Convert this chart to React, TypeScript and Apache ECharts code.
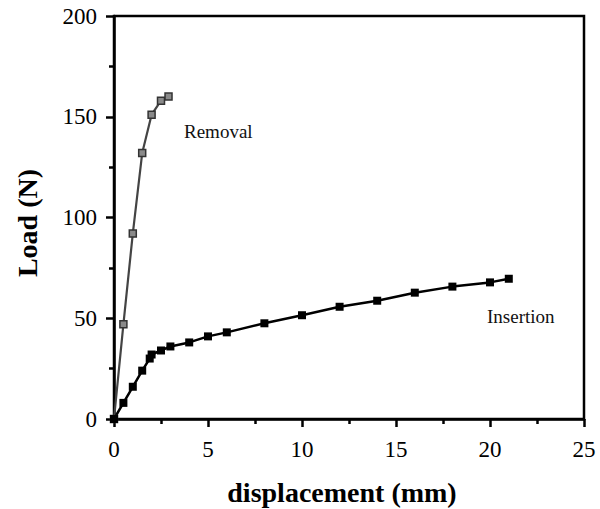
import React, { useEffect, useRef } from "react";
import * as echarts from "echarts";

const removalData: [number, number][] = [
  [0, 0], [0.5, 47], [1, 92], [1.5, 132], [2, 151], [2.5, 158], [2.9, 160],
];
const insertionData: [number, number][] = [
  [0, 0], [0.5, 8], [1, 16], [1.5, 24], [1.9, 30], [2, 32], [2.5, 34], [3, 36],
  [4, 38], [5, 41], [6, 43], [8, 47.5], [10, 51.5], [12, 55.7], [14, 58.7],
  [16, 62.7], [18, 65.7], [20, 67.8], [21, 69.6],
];
const seriesNames = ["Removal", "Insertion"];
const xName = "displacement (mm)";
const yName = "Load (N)";

const FONT = "Liberation Serif";

export default function App() {
  const ref = useRef<HTMLDivElement>(null);
  useEffect(() => {
    if (!ref.current) return;
    const chart = echarts.init(ref.current, undefined, { renderer: "svg" });
    const tickStyle = { color: "#000", width: 2.5 };
    chart.setOption({
      animation: false,
      backgroundColor: "#fff",
      grid: {
        left: 114, right: 16, top: 16, bottom: 90,
        show: true, borderColor: "#000", borderWidth: 2.5, backgroundColor: "transparent",
      },
      xAxis: {
        type: "value", min: 0, max: 25, interval: 5,
        axisLine: { show: true, lineStyle: { color: "#000", width: 2.5 } },
        axisTick: { show: true, inside: false, length: 8, lineStyle: tickStyle },
        minorTick: { show: true, splitNumber: 2, length: 5, lineStyle: tickStyle },
        axisLabel: { fontFamily: FONT, fontSize: 23, color: "#000", margin: 19 },
        splitLine: { show: false },
      },
      yAxis: {
        type: "value", min: 0, max: 200, interval: 50,
        axisLine: { show: true, lineStyle: { color: "#000", width: 2.5 } },
        axisTick: { show: true, inside: false, length: 8, lineStyle: tickStyle },
        minorTick: { show: true, splitNumber: 2, length: 5, lineStyle: tickStyle },
        axisLabel: { fontFamily: FONT, fontSize: 23, color: "#000", margin: 17 },
        splitLine: { show: false },
      },
      series: [
        {
          name: seriesNames[0], type: "line", data: removalData,
          symbol: "rect", symbolSize: 7, showAllSymbol: true,
          lineStyle: { color: "#444", width: 2.2 },
          itemStyle: { color: "#8a8a8a", borderColor: "#333", borderWidth: 1.5 },
        },
        {
          name: seriesNames[1], type: "line", data: insertionData,
          symbol: "rect", symbolSize: 8, showAllSymbol: true,
          lineStyle: { color: "#000", width: 2.5 },
          itemStyle: { color: "#000" },
        },
      ],
      graphic: [
        {
          type: "text", x: 184, y: 131,
          style: { text: seriesNames[0], fontFamily: FONT, fontSize: 19, fill: "#111", align: "left", verticalAlign: "middle" },
        },
        {
          type: "text", x: 487, y: 316,
          style: { text: seriesNames[1], fontFamily: FONT, fontSize: 19, fill: "#111", align: "left", verticalAlign: "middle" },
        },
        {
          type: "text", x: 342, y: 492,
          style: { text: xName, fontFamily: FONT, fontSize: 28, fontWeight: "bold", fill: "#000", align: "center", verticalAlign: "middle" },
        },
        {
          type: "text", x: 27, y: 223, rotation: Math.PI / 2,
          style: { text: yName, fontFamily: FONT, fontSize: 28, fontWeight: "bold", fill: "#000", align: "center", verticalAlign: "middle" },
        },
      ],
    });
    return () => chart.dispose();
  }, []);
  return <div ref={ref} style={{ position: "absolute", left: 0, top: 0, width: 600, height: 509 }} />;
}
